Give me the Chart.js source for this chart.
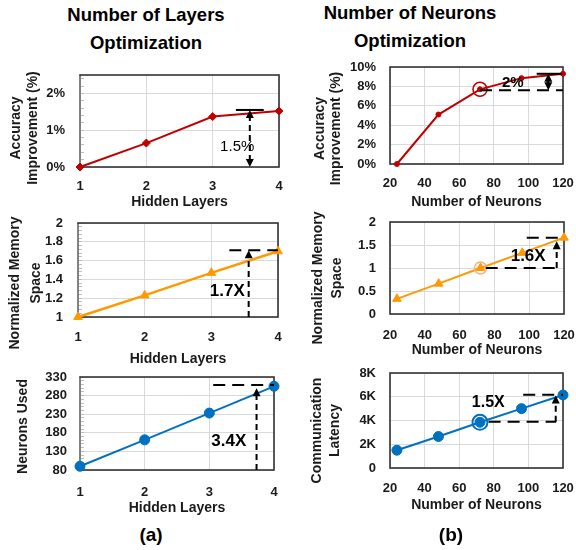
<!DOCTYPE html>
<html>
<head>
<meta charset="utf-8">
<script src="https://cdn.jsdelivr.net/npm/chart.js@4.4.0/dist/chart.umd.min.js"></script>
<style>
  body { margin: 0; background: #fff; }
  #wrap { position: relative; width: 576px; height: 550px; overflow: hidden;
          font-family: 'Liberation Sans', Arial, sans-serif; font-weight: bold; color: #000; }
  .head { position: absolute; width: 290px; text-align: center; font-size: 18.5px; line-height: 28px; }
  .tag { position: absolute; width: 60px; text-align: center; font-size: 19px; line-height: 22px; }
  canvas { position: absolute; }
</style>
</head>
<body>
<div id="wrap">
  <div class="head" style="left:1px;top:1px">Number of Layers<br>Optimization</div>
  <div class="head" style="left:265px;top:-1px">Number of Neurons<br>Optimization</div>

  <canvas id="accLayers" width="288" height="157" style="left:0;top:55px"></canvas>
  <canvas id="accNeurons" width="288" height="157" style="left:288px;top:55px"></canvas>
  <canvas id="memLayers" width="288" height="156" style="left:0;top:212px"></canvas>
  <canvas id="memNeurons" width="288" height="160" style="left:288px;top:200px"></canvas>
  <canvas id="usedLayers" width="288" height="152" style="left:0;top:368px"></canvas>
  <canvas id="latNeurons" width="288" height="160" style="left:288px;top:360px"></canvas>

  <div class="tag" style="left:121px;top:524px">(a)</div>
  <div class="tag" style="left:421px;top:524px">(b)</div>
</div>
<script>
// ---- data ----
const hiddenLayers = [1, 2, 3, 4];
const neuronCounts = [24, 48, 72, 96, 120];

const layerAccuracy = [0, 0.65, 1.37, 1.52];          // %
const neuronAccuracy = [0, 5.1, 7.7, 8.85, 9.3];      // %
const layerMemory = [1.0, 1.23, 1.47, 1.70];
const neuronMemory = [0.33, 0.66, 1.0, 1.33, 1.66];
const layerNeuronsUsed = [90, 161, 233, 305];
const neuronLatency = [1500, 2650, 3850, 5000, 6150];

const RED = '#C00000';
const ORANGE = '#FF9900';
const BLUE = '#0070C0';
const FONT = "'Liberation Sans', Arial, sans-serif";

Chart.defaults.font.family = FONT;
Chart.defaults.font.weight = 'bold';
Chart.defaults.color = '#1a1a1a';

// annotation marks per chart, in data units
const marks = {
  accLayers: [
    { type: 'hline', x1: 3.35, x2: 3.77, y: 1.55 },
    { type: 'arrow', x: 3.56, from: 0, to: 1.55, dash: [6, 4], both: true },
    { type: 'text', x: 3.37, y: 0.56, text: '1.5%', font: '15px ' + FONT }
  ],
  accNeurons: [
    { type: 'ring', x: 72, y: 7.7, r: 7, color: RED, width: 1.5 },
    { type: 'hline', x1: 72, x2: 120, y: 7.6, dash: [12, 7] },
    { type: 'hline', x1: 104.8, x2: 119.2, y: 9.3 },
    { type: 'arrow', x: 111.5, from: 7.6, to: 9.3, both: true },
    { type: 'text', x: 91, y: 8.4, text: '2%', font: 'bold 15px ' + FONT }
  ],
  memLayers: [
    { type: 'hline', x1: 3.27, x2: 4, y: 1.71, dash: [12, 7] },
    { type: 'arrow', x: 3.56, from: 1.0, to: 1.71, dash: [6, 4] },
    { type: 'text', x: 3.24, y: 1.27, text: '1.7X', font: 'bold 17px ' + FONT }
  ],
  memNeurons: [
    { type: 'ring', x: 72, y: 1.0, r: 6, color: '#F4B183', width: 1.5 },
    { type: 'hline', x1: 75, x2: 116, y: 1.0, dash: [12, 7] },
    { type: 'hline', x1: 98.6, x2: 120, y: 1.66, dash: [12, 7] },
    { type: 'arrow', x: 115.8, from: 1.0, to: 1.58, dash: [6, 4] },
    { type: 'text', x: 99.4, y: 1.25, text: '1.6X', font: 'bold 17px ' + FONT }
  ],
  usedLayers: [
    { type: 'hline', x1: 3.06, x2: 4, y: 308.5, dash: [12, 7] },
    { type: 'arrow', x: 3.73, from: 80, to: 300, dash: [6, 4] },
    { type: 'text', x: 3.30, y: 158, text: '3.4X', font: 'bold 17px ' + FONT }
  ],
  latNeurons: [
    { type: 'ring', x: 72, y: 3850, r: 7.5, color: BLUE, width: 2 },
    { type: 'hline', x1: 77, x2: 116, y: 3900, dash: [12, 7] },
    { type: 'hline', x1: 97, x2: 120, y: 6160, dash: [12, 7] },
    { type: 'arrow', x: 115.8, from: 3900, to: 6100, dash: [6, 4] },
    { type: 'text', x: 76.8, y: 5530, text: '1.5X', font: 'bold 16px ' + FONT }
  ]
};

// y axis titles: first line centre x (canvas px), gap between lines, shift from plot centre
const yTitles = {
  accLayers: { lines: ['Accuracy', 'Improvement (%)'], x: 16, gap: 17, dy: 7 },
  accNeurons: { lines: ['Accuracy', 'Improvement (%)'], x: 32, gap: 16, dy: 13 },
  memLayers: { lines: ['Normalized Memory', 'Space'], x: 15, gap: 21, dy: 13 },
  memNeurons: { lines: ['Normalized Memory', 'Space'], x: 30, gap: 19, dy: 10 },
  usedLayers: { lines: ['Neurons Used'], x: 23, gap: 0, dy: 3 },
  latNeurons: { lines: ['Communication', 'Latency'], x: 29.5, gap: 17.5, dy: 10 }
};

const frameLeft = { accLayers: '#8c8c8c', memLayers: '#8c8c8c', usedLayers: '#8c8c8c' };

const framePlugin = {
  id: 'frame',
  beforeDatasetsDraw(chart) {
    const { ctx, chartArea: a } = chart;
    ctx.save();
    ctx.lineWidth = 1.6;
    ctx.strokeStyle = '#333';
    ctx.strokeRect(a.left, a.top, a.width, a.height);
    const lc = frameLeft[chart.canvas.id];
    if (lc) {
      ctx.strokeStyle = lc;
      ctx.beginPath();
      ctx.moveTo(a.left, a.top + 1);
      ctx.lineTo(a.left, a.bottom - 1);
      ctx.stroke();
    }
    ctx.restore();
  },
  afterDraw(chart) {
    const t = yTitles[chart.canvas.id];
    const a = chart.chartArea;
    const ctx = chart.ctx;
    ctx.save();
    ctx.fillStyle = '#1a1a1a';
    ctx.font = 'bold 14px ' + FONT;
    ctx.textAlign = 'center';
    ctx.textBaseline = 'middle';
    t.lines.forEach((txt, i) => {
      ctx.save();
      ctx.translate(t.x + i * t.gap, (a.top + a.bottom) / 2 + t.dy);
      ctx.rotate(-Math.PI / 2);
      ctx.fillText(txt, 0, 0);
      ctx.restore();
    });
    ctx.restore();
  }
};

function head(ctx, x, y, dir) {
  // dir -1 = pointing up, 1 = pointing down
  ctx.beginPath();
  ctx.moveTo(x, y);
  ctx.lineTo(x - 4, y - dir * 8);
  ctx.lineTo(x + 4, y - dir * 8);
  ctx.closePath();
  ctx.fill();
}

const marksPlugin = {
  id: 'marks',
  afterDatasetsDraw(chart) {
    const list = marks[chart.canvas.id] || [];
    const ctx = chart.ctx;
    const sx = v => chart.scales.x.getPixelForValue(v);
    const sy = v => chart.scales.y.getPixelForValue(v);
    list.forEach(m => {
      ctx.save();
      ctx.strokeStyle = ctx.fillStyle = m.color || '#000';
      ctx.lineWidth = m.width || 2;
      if (m.type === 'hline') {
        ctx.setLineDash(m.dash || []);
        ctx.beginPath();
        ctx.moveTo(sx(m.x1), sy(m.y));
        ctx.lineTo(sx(m.x2), sy(m.y));
        ctx.stroke();
      } else if (m.type === 'arrow') {
        const x = sx(m.x), y1 = sy(m.from), y2 = sy(m.to);
        const dir = y2 < y1 ? -1 : 1;
        ctx.setLineDash(m.dash || []);
        ctx.beginPath();
        ctx.moveTo(x, m.both ? y1 + dir * 6 : y1);
        ctx.lineTo(x, y2 - dir * 6);
        ctx.stroke();
        ctx.setLineDash([]);
        head(ctx, x, y2, dir);
        if (m.both) head(ctx, x, y1, -dir);
      } else if (m.type === 'ring') {
        ctx.beginPath();
        ctx.arc(sx(m.x), sy(m.y), m.r, 0, Math.PI * 2);
        ctx.stroke();
      } else if (m.type === 'text') {
        ctx.font = m.font;
        ctx.textAlign = 'center';
        ctx.textBaseline = 'middle';
        ctx.fillText(m.text, sx(m.x), sy(m.y));
      }
      ctx.restore();
    });
  }
};

function lineChart(id, c) {
  const scales = {
    x: {
      type: 'linear',
      min: c.xMin, max: c.xMax,
      ticks: { stepSize: c.xStep, autoSkip: false, padding: c.xTickPad, font: { size: 13 } },
      grid: { color: '#d9d9d9', drawTicks: false },
      border: { display: false },
      title: { display: true, text: c.xTitle, font: { size: 14 }, padding: { top: 0, bottom: c.xTitlePad } },
      afterFit: s => { s.height = c.xHeight; s.paddingLeft = 0; s.paddingRight = 0; }
    },
    y: {
      min: c.yMin, max: c.yMax,
      ticks: { stepSize: c.yStep, autoSkip: false, includeBounds: false, padding: c.yTickPad, font: { size: 13 }, callback: c.yFormat },
      grid: { color: '#d9d9d9', drawTicks: false },
      border: { display: false },
      afterFit: s => { s.width = c.yWidth; s.paddingTop = 0; s.paddingBottom = 0; }
    }
  };
  if (c.minorStep) {
    // small inward tick marks along the left axis
    scales.ym = {
      type: 'linear', position: 'left', weight: -1,
      min: c.yMin, max: c.yMax,
      ticks: { display: false, stepSize: c.minorStep, includeBounds: false },
      grid: { drawOnChartArea: false, drawTicks: true, tickLength: -4, color: '#bfbfbf' },
      border: { display: false },
      afterFit: s => { s.width = 0; s.paddingTop = 0; s.paddingBottom = 0; }
    };
  }
  return new Chart(document.getElementById(id), {
    type: 'line',
    data: {
      datasets: [{
        data: c.xs.map((x, i) => ({ x: x, y: c.ys[i] })),
        borderColor: c.color,
        backgroundColor: c.color,
        borderWidth: c.lineWidth,
        pointStyle: c.pointStyle,
        pointRadius: c.pointRadius,
        pointBorderWidth: 1,
        clip: false,
        tension: 0
      }]
    },
    options: {
      responsive: false,
      animation: false,
      layout: { padding: c.pad },
      plugins: { legend: { display: false }, tooltip: { enabled: false } },
      scales: scales
    },
    plugins: [framePlugin, marksPlugin]
  });
}

const layerAxis = { xs: hiddenLayers, xMin: 1, xMax: 4, xStep: 1, xTitle: 'Hidden Layers' };
const neuronAxis = { xs: neuronCounts, xMin: 20, xMax: 120, xStep: 20, xTitle: 'Number of Neurons' };

lineChart('accLayers', Object.assign({}, layerAxis, {
  ys: layerAccuracy, color: RED, lineWidth: 2, pointStyle: 'rectRot', pointRadius: 4,
  yMin: 0, yMax: 2.5, yStep: 1, minorStep: 0.2, yFormat: v => v + '%',
  pad: { left: 4, top: 20, right: 9, bottom: 0 }, yWidth: 76, xHeight: 45,
  yTickPad: 15, xTickPad: 12, xTitlePad: 1
}));

lineChart('accNeurons', Object.assign({}, neuronAxis, {
  ys: neuronAccuracy, color: RED, lineWidth: 2, pointStyle: 'circle', pointRadius: 2.5,
  yMin: 0, yMax: 10, yStep: 2, yFormat: v => v + '%',
  pad: { left: 4, top: 12, right: 13, bottom: 0 }, yWidth: 98, xHeight: 48,
  yTickPad: 14, xTickPad: 12, xTitlePad: 1
}));

lineChart('memLayers', Object.assign({}, layerAxis, {
  ys: layerMemory, color: ORANGE, lineWidth: 2.5, pointStyle: 'triangle', pointRadius: 5,
  yMin: 1, yMax: 2, yStep: 0.2, minorStep: 0.04,
  pad: { left: 4, top: 11, right: 10, bottom: 0 }, yWidth: 74, xHeight: 51,
  yTickPad: 15, xTickPad: 13, xTitlePad: 0
}));

lineChart('memNeurons', Object.assign({}, neuronAxis, {
  ys: neuronMemory, color: ORANGE, lineWidth: 2, pointStyle: 'triangle', pointRadius: 5,
  yMin: 0, yMax: 2, yStep: 0.5,
  pad: { left: 4, top: 22, right: 12, bottom: 0 }, yWidth: 98, xHeight: 46,
  yTickPad: 14, xTickPad: 14, xTitlePad: 1
}));

lineChart('usedLayers', Object.assign({}, layerAxis, {
  ys: layerNeuronsUsed, color: BLUE, lineWidth: 2, pointStyle: 'circle', pointRadius: 5,
  yMin: 80, yMax: 330, yStep: 50, minorStep: 10,
  pad: { left: 4, top: 9, right: 14, bottom: 0 }, yWidth: 76, xHeight: 50,
  yTickPad: 13, xTickPad: 15, xTitlePad: 3
}));

lineChart('latNeurons', Object.assign({}, neuronAxis, {
  ys: neuronLatency, color: BLUE, lineWidth: 2, pointStyle: 'circle', pointRadius: 5,
  yMin: 0, yMax: 8000, yStep: 2000, yFormat: v => v === 0 ? '0' : (v / 1000) + 'K',
  pad: { left: 4, top: 13, right: 13, bottom: 0 }, yWidth: 98, xHeight: 52,
  yTickPad: 14, xTickPad: 13, xTitlePad: 6
}));
</script>
</body>
</html>
